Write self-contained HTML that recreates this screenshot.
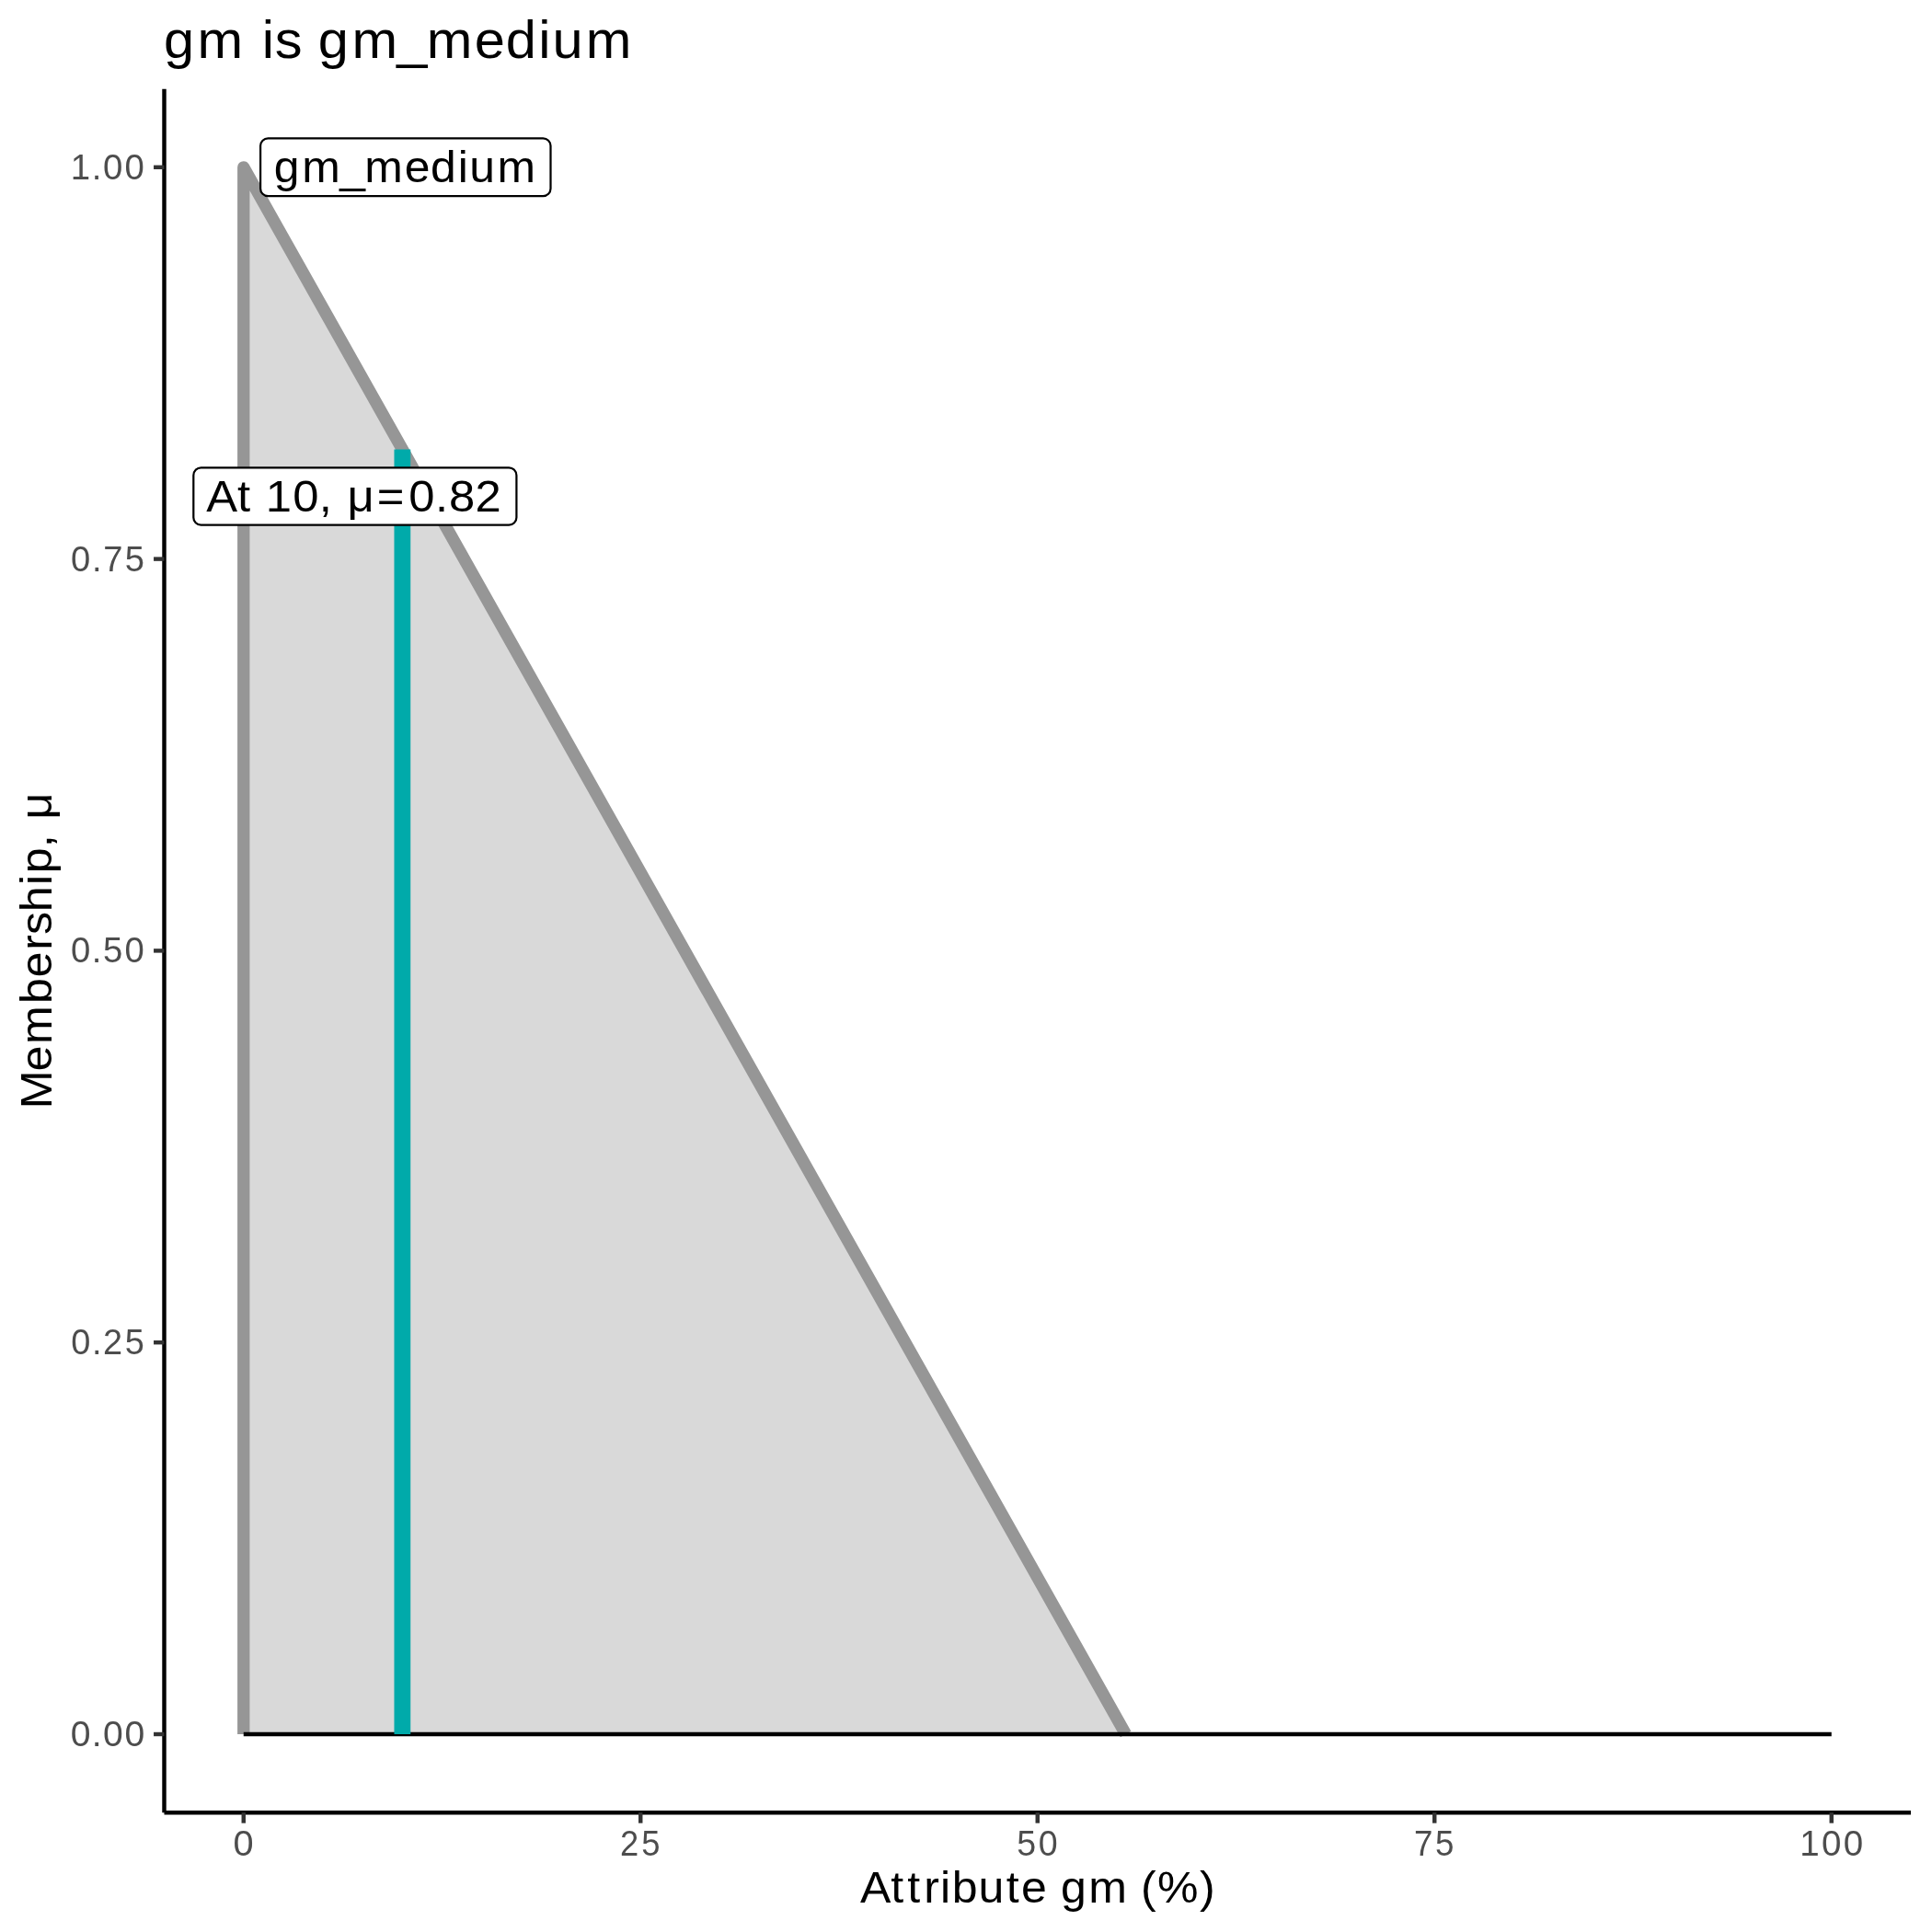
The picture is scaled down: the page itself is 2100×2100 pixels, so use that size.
<!DOCTYPE html>
<html>
<head>
<meta charset="utf-8">
<style>
html,body{margin:0;padding:0;background:#ffffff;width:2100px;height:2100px;overflow:hidden;}
svg{display:block;will-change:transform;}
text{font-family:"Liberation Sans",sans-serif;}
</style>
</head>
<body>
<svg width="2100" height="2100" viewBox="0 0 2100 2100">
<rect x="0" y="0" width="2100" height="2100" fill="#ffffff"/>
<polygon points="264.75,1885.0 264.75,181.79999999999995 1223.64,1885.0" fill="#D9D9D9"/>
<polyline points="264.75,1885.0 264.75,181.79999999999995 1223.64,1885.0" fill="none" stroke="#969696" stroke-width="13.3" stroke-linejoin="round" stroke-linecap="butt"/>
<line x1="264.75" y1="1885.0" x2="1990.7500000000002" y2="1885.0" stroke="#000000" stroke-width="4.44"/>
<line x1="437.35" y1="1885.0" x2="437.35" y2="488.38" stroke="#00AAAA" stroke-width="17.76"/>
<line x1="178.5" y1="96.75" x2="178.5" y2="1970.2" stroke="#000000" stroke-width="4.44"/>
<line x1="178.5" y1="1970.2" x2="2077.0" y2="1970.2" stroke="#000000" stroke-width="4.44"/>
<g stroke="#333333" stroke-width="4.44">
<line x1="167.04" y1="1885.00" x2="178.5" y2="1885.00"/>
<line x1="167.04" y1="1459.20" x2="178.5" y2="1459.20"/>
<line x1="167.04" y1="1033.40" x2="178.5" y2="1033.40"/>
<line x1="167.04" y1="607.60" x2="178.5" y2="607.60"/>
<line x1="167.04" y1="181.80" x2="178.5" y2="181.80"/>
<line x1="264.75" y1="1970.2" x2="264.75" y2="1981.66"/>
<line x1="696.25" y1="1970.2" x2="696.25" y2="1981.66"/>
<line x1="1127.75" y1="1970.2" x2="1127.75" y2="1981.66"/>
<line x1="1559.25" y1="1970.2" x2="1559.25" y2="1981.66"/>
<line x1="1990.75" y1="1970.2" x2="1990.75" y2="1981.66"/>
</g>
<text transform="scale(0.99538,1)" x="77.16 100.32 112.60 136.11" y="194.90" font-size="38.5035" fill="#4D4D4D">1.00</text>
<text transform="scale(0.98988,1)" x="77.91 101.09 113.50 137.20" y="620.70" font-size="38.5035" fill="#4D4D4D">0.75</text>
<text transform="scale(0.99325,1)" x="77.48 100.53 112.74 136.50" y="1046.50" font-size="38.5035" fill="#4D4D4D">0.50</text>
<text transform="scale(0.98549,1)" x="78.31 101.56 113.63 137.86" y="1472.30" font-size="38.5035" fill="#4D4D4D">0.25</text>
<text transform="scale(1.01613,1)" x="75.44 98.19 110.23 133.43" y="1898.10" font-size="38.5035" fill="#4D4D4D">0.00</text>
<text transform="scale(1.03229,1)" x="245.52" y="2016.90" font-size="38.5035" fill="#4D4D4D">0</text>
<text transform="scale(0.94399,1)" x="713.95 738.67" y="2016.90" font-size="38.5035" fill="#4D4D4D">25</text>
<text transform="scale(0.97590,1)" x="1132.54 1156.59" y="2016.90" font-size="38.5035" fill="#4D4D4D">50</text>
<text transform="scale(0.95372,1)" x="1611.66 1635.78" y="2016.90" font-size="38.5035" fill="#4D4D4D">75</text>
<text transform="scale(1.00040,1)" x="1955.52 1979.28 2002.85" y="2016.90" font-size="38.5035" fill="#4D4D4D">100</text>
<rect x="283.1" y="150.3" width="315.4" height="62.9" rx="8.25" ry="8.25" fill="#ffffff" stroke="#000000" stroke-width="2.22"/>
<text transform="scale(1.03633,1)" x="287.40 316.84 356.21 382.31 424.24 451.66 480.24 492.33 521.59" y="198.10" font-size="48.1215" fill="#000000">gm_medium</text>
<rect x="210.3" y="508.4" width="351.1" height="62.3" rx="8.25" ry="8.25" fill="#ffffff" stroke="#000000" stroke-width="2.22"/>
<text transform="scale(1.05527,1)" x="212.53 244.39 257.76 273.69 301.60 328.58 341.95 357.84 388.23 420.90 448.31 462.35 489.42" y="556.50" font-size="48.1215" fill="#000000">At 10, μ=0.82</text>
<text transform="scale(1.03196,1)" x="172.47 207.92 256.03 275.89 289.58 318.45 335.15 370.61 417.97 449.40 499.84 532.84 567.21 581.79 617.02" y="63.00" font-size="57.75" fill="#000000">gm is gm_medium</text>
<text transform="scale(1.03951,1)" x="899.37 931.53 948.79 966.07 983.13 995.41 1022.99 1052.23 1067.92 1094.69 1109.10 1138.22 1178.30 1192.93 1210.28 1254.38" y="2068.50" font-size="48.1215" fill="#000000">Attribute gm (%)</text>
<text transform="translate(55.8,1199.6) rotate(-90) scale(1.04326,1)" x="-5.41 33.77 62.01 104.11 131.37 159.97 175.92 199.62 227.66 239.88 266.77 280.14 296.40" y="0" font-size="48.1215" fill="#000000">Membership, μ</text>
</svg>
</body>
</html>
